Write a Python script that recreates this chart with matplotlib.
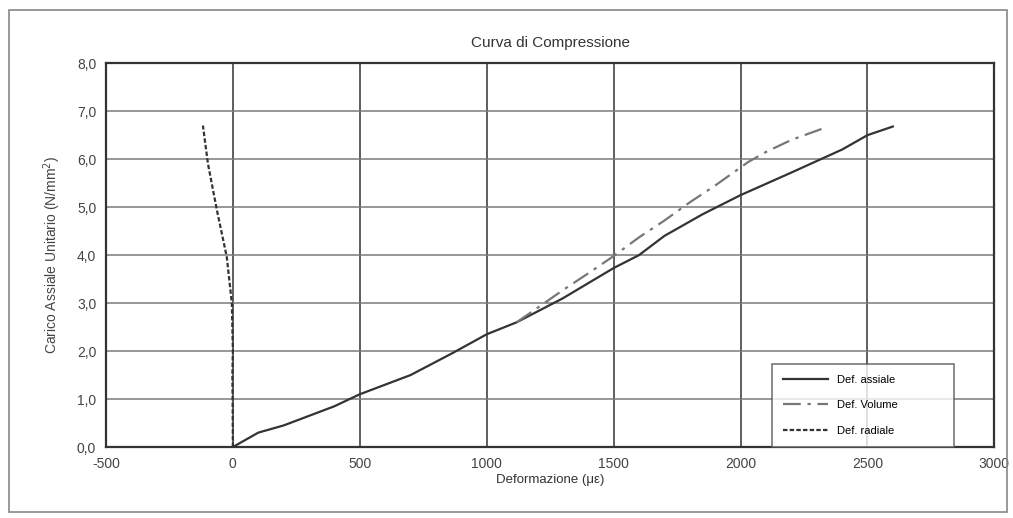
import matplotlib
matplotlib.use("Agg")
import matplotlib.pyplot as plt
from matplotlib.patches import Rectangle
import matplotlib.ticker as ticker

plt.rcParams['font.family'] = ['Liberation Sans', 'DejaVu Sans']
plt.rcParams['axes.unicode_minus'] = False

# Def. assiale
ax_x = [0, 100, 200, 400, 500, 700, 866, 1000, 1118, 1300, 1500, 1600, 1700, 1850, 2000, 2200, 2400, 2500, 2600]
ax_y = [0.0, 0.3, 0.45, 0.85, 1.1, 1.5, 1.96, 2.35, 2.6, 3.1, 3.73, 4.0, 4.4, 4.85, 5.25, 5.72, 6.2, 6.5, 6.68]
# Def. Volume
vol_x = [1118, 1200, 1300, 1400, 1500, 1600, 1700, 1800, 1900, 2030, 2100, 2200, 2340]
vol_y = [2.6, 2.9, 3.27, 3.62, 3.98, 4.37, 4.72, 5.1, 5.45, 5.94, 6.15, 6.4, 6.67]
# Def. radiale
rad_x = [0, -1, -2, 0, -4, -24, -63, -98, -118]
rad_y = [0.0, 1.0, 1.5, 2.0, 3.0, 3.96, 4.94, 5.9, 6.7]

fig = plt.figure(figsize=(10.13, 5.18), dpi=100)
fig.patches.append(Rectangle((0.009, 0.012), 0.985, 0.968, transform=fig.transFigure,
                             fill=False, edgecolor='#888888', linewidth=1.2))
ax = fig.add_axes([0.1046, 0.137, 0.877, 0.741])

ax.plot(ax_x, ax_y, color='#333333', lw=1.6, ls='-', label='Def. assiale')
ax.plot(vol_x, vol_y, color='#777777', lw=1.6, ls=(0, (8, 3, 1.5, 3)), label='Def. Volume')
ax.plot(rad_x, rad_y, color='#333333', lw=1.6, ls=(0, (2, 1)), label='Def. radiale')

ax.set_xlim(-500, 3000)
ax.set_ylim(0, 8)
ax.set_xticks(range(-500, 3001, 500))
ax.set_yticks([i * 1.0 for i in range(9)])
ax.yaxis.set_major_formatter(ticker.FuncFormatter(lambda v, p: ('%.1f' % v).replace('.', ',')))
ax.xaxis.grid(True, color='#333333', lw=1.1)
ax.yaxis.grid(True, color='#7a7a7a', lw=1.1)
ax.set_axisbelow(True)
for s in ax.spines.values():
    s.set_color('#333333')
    s.set_linewidth(1.6)
ax.tick_params(length=0, labelsize=10, colors='#444444', pad=7)

ax.set_title('Curva di Compressione', fontsize=11, color='#333333', pad=12)
ax.set_xlabel('Deformazione (\u03bc\u03b5)', fontsize=9.5, color='#333333', labelpad=2)
ax.set_ylabel('Carico Assiale Unitario (N/mm$^2$)', fontsize=10, color='#444444', labelpad=10)

leg = ax.legend(loc='lower left', bbox_to_anchor=(0.75, 0.0, 0.205, 0.22), mode='expand',
                fontsize=8, frameon=True, fancybox=False, edgecolor='#555555',
                labelspacing=1.4, handlelength=4, borderpad=1.0, borderaxespad=0)
leg.get_frame().set_linewidth(1.2)

fig.savefig('out.png', dpi=100)
